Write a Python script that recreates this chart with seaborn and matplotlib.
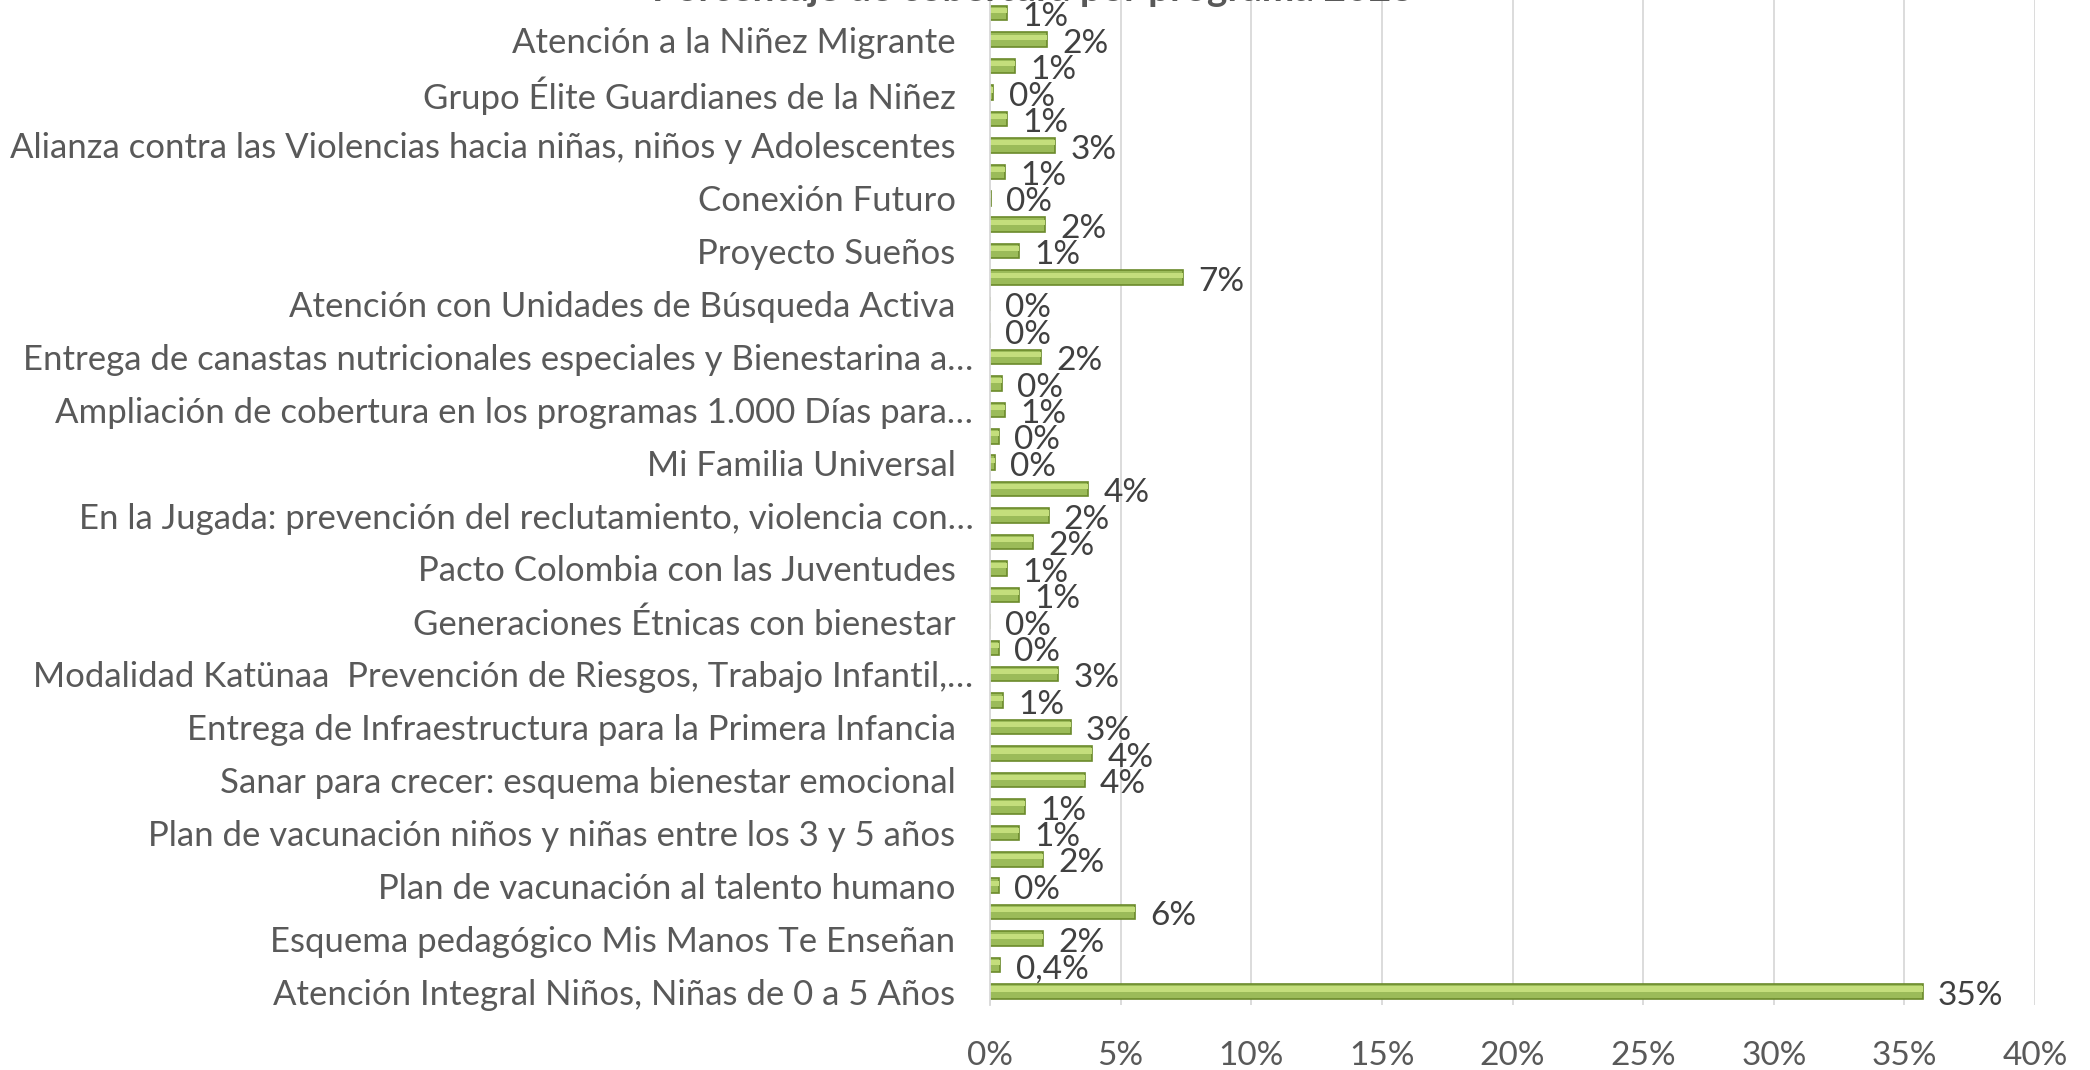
import pandas as pd
import numpy as np
import matplotlib
matplotlib.use('Agg')
import matplotlib.pyplot as plt
import seaborn as sns

# 38 bars, top to bottom; Excel only shows every other category label
etiquetas = ['', 'Atención a la Niñez Migrante  ',
             '', 'Grupo Élite Guardianes de la Niñez  ',
             '', 'Alianza contra las Violencias hacia niñas, niños y Adolescentes  ',
             '', 'Conexión Futuro  ',
             '', 'Proyecto Sueños  ',
             '', 'Atención con Unidades de Búsqueda Activa  ',
             '', 'Entrega de canastas nutricionales especiales y Bienestarina a…',
             '', 'Ampliación de cobertura en los programas 1.000 Días para…',
             '', 'Mi Familia Universal  ',
             '', 'En la Jugada: prevención del reclutamiento, violencia con…',
             '', 'Pacto Colombia con las Juventudes  ',
             '', 'Generaciones Étnicas con bienestar  ',
             '', 'Modalidad Katünaa  Prevención de Riesgos, Trabajo Infantil,…',
             '', 'Entrega de Infraestructura para la Primera Infancia  ',
             '', 'Sanar para crecer: esquema bienestar emocional  ',
             '', 'Plan de vacunación niños y niñas entre los 3 y 5 años  ',
             '', 'Plan de vacunación al talento humano  ',
             '', 'Esquema pedagógico Mis Manos Te Enseñan  ',
             '', 'Atención Integral Niños, Niñas de 0 a 5 Años  ']

porcentajes = [0.65, 2.18, 0.97, 0.13, 0.65, 2.50, 0.57, 0.04, 2.12, 1.11,
               7.40, 0.0, 0.0, 1.96, 0.44, 0.59, 0.35, 0.19, 3.76, 2.24,
               1.64, 0.65, 1.11, 0.0, 0.35, 2.62, 0.51, 3.09, 3.91, 3.62,
               1.34, 1.11, 2.02, 0.35, 5.55, 2.02, 0.40, 35.7]

rotulos = ['1%', '2%', '1%', '0%', '1%', '3%', '1%', '0%', '2%', '1%',
           '7%', '0%', '0%', '2%', '0%', '1%', '0%', '0%', '4%', '2%',
           '2%', '1%', '1%', '0%', '0%', '3%', '1%', '3%', '4%', '4%',
           '1%', '1%', '2%', '0%', '6%', '2%', '0,4%', '35%']

titulo = 'Porcentaje de cobertura por programa 2023'

df = pd.DataFrame({'id': [str(i) for i in range(len(porcentajes))],
                   'valor': porcentajes})

sns.set_style('white')
plt.rcParams['font.family'] = ['Lato', 'DejaVu Sans']

fig = plt.figure(figsize=(20.9, 10.7), dpi=100)
ax = fig.add_axes([0.4737, 0.061, 0.5, 0.939])

sns.barplot(data=df, x='valor', y='id', orient='h', color='#9BBB59',
            edgecolor='#6B8A2B', linewidth=1.2, width=0.55, saturation=1, ax=ax)

# light highlight stripe to mimic the 3D bar look
for p in ax.patches:
    y0 = p.get_y()
    h = p.get_height()
    ax.add_patch(plt.Rectangle((p.get_x(), y0 + h * 0.15), p.get_width(), h * 0.35,
                               color='#C4DE7C', lw=0, zorder=p.get_zorder() + 0.1))

for i, (v, r) in enumerate(zip(porcentajes, rotulos)):
    ax.annotate(r, (v, i), xytext=(11, -3), textcoords='offset points',
                ha='left', va='center', fontsize=24, color='#404040')

ax.set_xlim(0, 40)
ax.set_ylim(len(porcentajes) - 0.5, -0.5)
ax.set_xticks(np.arange(0, 41, 5))
ax.set_xticklabels([f'{t}%' for t in range(0, 41, 5)], fontsize=24, color='#595959')
ax.set_yticks(range(len(etiquetas)))
ax.set_yticklabels(etiquetas, fontsize=25, color='#595959')
ax.tick_params(axis='y', length=0, pad=12)
ax.tick_params(axis='x', length=0, pad=26)
ax.set_xlabel('')
ax.set_ylabel('')
ax.xaxis.grid(True, color='#D9D9D9', linewidth=1.3)
ax.set_axisbelow(True)
for s in ['top', 'right', 'bottom']:
    ax.spines[s].set_visible(False)
ax.spines['left'].set_color('#D9D9D9')
ax.spines['left'].set_linewidth(1.3)

# the title sits mostly above the canvas, as in the original
fig.text(0.494, 0.9988, titulo, ha='center', va='baseline', fontsize=28,
         fontweight='bold', color='#595959')

fig.savefig('out.png', dpi=100)
